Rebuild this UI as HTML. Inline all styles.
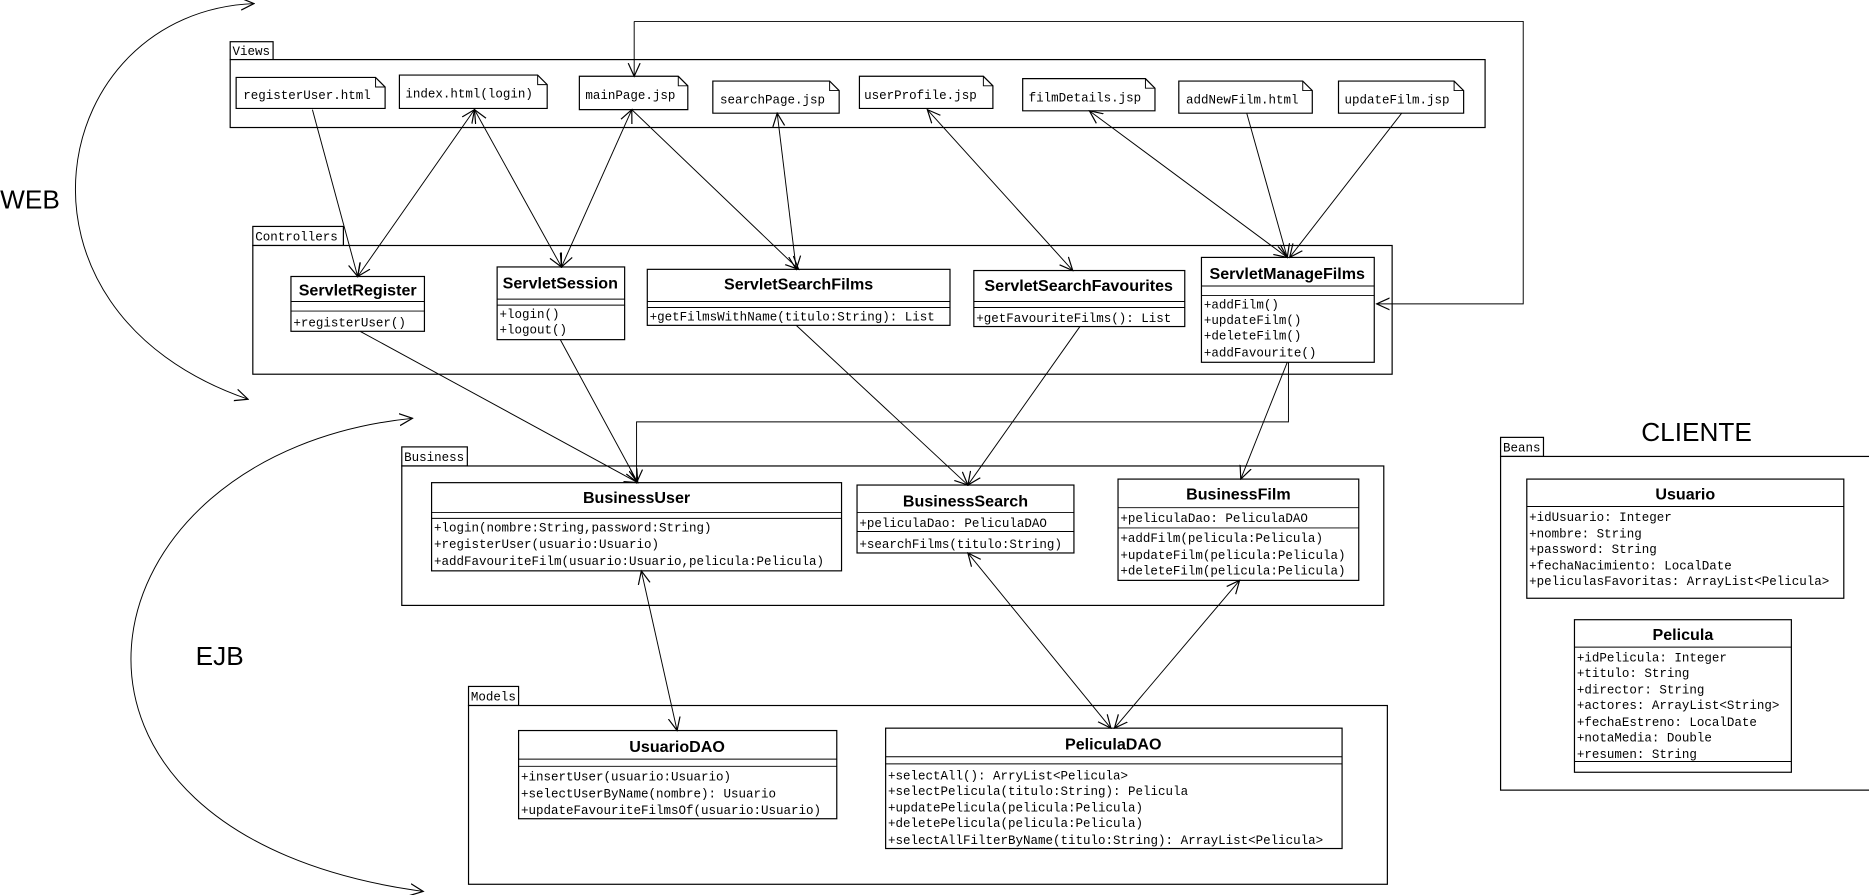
<!DOCTYPE html>
<html><head><meta charset="utf-8"><style>
html,body{margin:0;padding:0;background:#fff;}
svg{display:block;}
.m{font-family:"Liberation Mono",monospace;font-size:10.5px;fill:#000;}
.t{font-family:"Liberation Sans",sans-serif;font-weight:bold;font-size:13.5px;fill:#000;text-anchor:middle;}
.b{fill:#fff;stroke:#000;stroke-width:1;}
.l{fill:none;stroke:#000;stroke-width:0.8;}
</style></head><body>
<svg width="1869" height="895" viewBox="0 0 1568 751" xmlns="http://www.w3.org/2000/svg">
<defs>
<marker id="a" viewBox="0 0 12 12" refX="11" refY="6" markerWidth="12" markerHeight="12" markerUnits="userSpaceOnUse" orient="auto-start-reverse">
<path d="M0,1 L11,6 L0,11" fill="none" stroke="#000" stroke-width="1"/>
</marker>
</defs>

<text x="0" y="175" font-family="Liberation Sans,sans-serif" font-size="22">WEB</text>
<path class="l" d="M213,3 C40,10 -10,260 208,335" marker-end="url(#a)" marker-start="url(#a)"/>
<text x="164" y="558" font-family="Liberation Sans,sans-serif" font-size="22">EJB</text>
<path class="l" d="M346,351 C60,380 0,700 355,748" marker-end="url(#a)" marker-start="url(#a)"/>
<text x="1377" y="370" font-family="Liberation Sans,sans-serif" font-size="22">CLIENTE</text>

<rect class="b" x="193" y="35" width="36" height="15"/>
<text class="m" x="195" y="46">Views</text>
<rect class="b" x="193" y="50" width="1053" height="57"/>
<g>
<path class="b" d="M198,65 H315 L323,73 V91 H198 Z"/><path class="l" d="M315,65 V73 H323"/>
<text class="m" x="204" y="83">registerUser.html</text>
<path class="b" d="M335,63 H451 L459,71 V91 H335 Z"/><path class="l" d="M451,63 V71 H459"/>
<text class="m" x="340" y="82">index.html(login)</text>
<path class="b" d="M486,64 H569 L577,72 V92 H486 Z"/><path class="l" d="M569,64 V72 H577"/>
<text class="m" x="491" y="83">mainPage.jsp</text>
<path class="b" d="M598,68 H696 L704,76 V95 H598 Z"/><path class="l" d="M696,68 V76 H704"/>
<text class="m" x="604" y="87">searchPage.jsp</text>
<path class="b" d="M721,64 H825 L833,72 V91 H721 Z"/><path class="l" d="M825,64 V72 H833"/>
<text class="m" x="725" y="83">userProfile.jsp</text>
<path class="b" d="M858,66 H961 L969,74 V93 H858 Z"/><path class="l" d="M961,66 V74 H969"/>
<text class="m" x="863" y="85">filmDetails.jsp</text>
<path class="b" d="M989,68 H1093 L1101,76 V95 H989 Z"/><path class="l" d="M1093,68 V76 H1101"/>
<text class="m" x="995" y="87">addNewFilm.html</text>
<path class="b" d="M1123,68 H1220 L1228,76 V95 H1123 Z"/><path class="l" d="M1220,68 V76 H1228"/>
<text class="m" x="1128" y="87">updateFilm.jsp</text>
</g>

<rect class="b" x="212" y="190" width="76" height="16"/>
<text class="m" x="214" y="202">Controllers</text>
<rect class="b" x="212" y="206" width="956" height="108"/>

<rect class="b" x="244" y="232" width="112" height="46"/>
<line class="l" x1="244" y1="253" x2="356" y2="253"/><line class="l" x1="244" y1="261" x2="356" y2="261"/>
<text class="t" x="300" y="248">ServletRegister</text>
<text class="m" x="246" y="274">+registerUser()</text>

<rect class="b" x="417" y="224" width="107" height="61"/>
<line class="l" x1="417" y1="251" x2="524" y2="251"/><line class="l" x1="417" y1="256" x2="524" y2="256"/>
<text class="t" x="470" y="242">ServletSession</text>
<text class="m" x="419" y="267">+login()</text>
<text class="m" x="419" y="280">+logout()</text>

<rect class="b" x="543" y="226" width="254" height="47"/>
<line class="l" x1="543" y1="253" x2="797" y2="253"/><line class="l" x1="543" y1="258" x2="797" y2="258"/>
<text class="t" x="670" y="243">ServletSearchFilms</text>
<text class="m" x="545" y="269">+getFilmsWithName(titulo:String): List</text>

<rect class="b" x="817" y="227" width="177" height="47"/>
<line class="l" x1="817" y1="253" x2="994" y2="253"/><line class="l" x1="817" y1="258" x2="994" y2="258"/>
<text class="t" x="905" y="244">ServletSearchFavourites</text>
<text class="m" x="819" y="270">+getFavouriteFilms(): List</text>

<rect class="b" x="1008" y="216" width="145" height="88"/>
<line class="l" x1="1008" y1="240" x2="1153" y2="240"/><line class="l" x1="1008" y1="248" x2="1153" y2="248"/>
<text class="t" x="1080" y="234">ServletManageFilms</text>
<text class="m" x="1010" y="259">+addFilm()</text>
<text class="m" x="1010" y="272">+updateFilm()</text>
<text class="m" x="1010" y="285">+deleteFilm()</text>
<text class="m" x="1010" y="299">+addFavourite()</text>

<rect class="b" x="337" y="375" width="55" height="16"/>
<text class="m" x="339" y="387">Business</text>
<rect class="b" x="337" y="391" width="824" height="117"/>

<rect class="b" x="362" y="405" width="344" height="74"/>
<line class="l" x1="362" y1="430" x2="706" y2="430"/><line class="l" x1="362" y1="435" x2="706" y2="435"/>
<text class="t" x="534" y="422">BusinessUser</text>
<text class="m" x="364" y="446">+login(nombre:String,password:String)</text>
<text class="m" x="364" y="460">+registerUser(usuario:Usuario)</text>
<text class="m" x="364" y="474">+addFavouriteFilm(usuario:Usuario,pelicula:Pelicula)</text>

<rect class="b" x="719" y="407" width="182" height="57"/>
<line class="l" x1="719" y1="430" x2="901" y2="430"/><line class="l" x1="719" y1="446" x2="901" y2="446"/>
<text class="t" x="810" y="425">BusinessSearch</text>
<text class="m" x="721" y="442">+peliculaDao: PeliculaDAO</text>
<text class="m" x="721" y="460">+searchFilms(titulo:String)</text>

<rect class="b" x="938" y="402" width="202" height="85"/>
<line class="l" x1="938" y1="426" x2="1140" y2="426"/><line class="l" x1="938" y1="443" x2="1140" y2="443"/>
<text class="t" x="1039" y="419">BusinessFilm</text>
<text class="m" x="940" y="438">+peliculaDao: PeliculaDAO</text>
<text class="m" x="940" y="455">+addFilm(pelicula:Pelicula)</text>
<text class="m" x="940" y="469">+updateFilm(pelicula:Pelicula)</text>
<text class="m" x="940" y="482">+deleteFilm(pelicula:Pelicula)</text>

<rect class="b" x="393" y="576" width="42" height="16"/>
<text class="m" x="395" y="588">Models</text>
<rect class="b" x="393" y="592" width="771" height="150"/>

<rect class="b" x="435" y="613" width="267" height="74"/>
<line class="l" x1="435" y1="637" x2="702" y2="637"/><line class="l" x1="435" y1="643" x2="702" y2="643"/>
<text class="t" x="568" y="631">UsuarioDAO</text>
<text class="m" x="437" y="655">+insertUser(usuario:Usuario)</text>
<text class="m" x="437" y="669">+selectUserByName(nombre): Usuario</text>
<text class="m" x="437" y="683">+updateFavouriteFilmsOf(usuario:Usuario)</text>

<rect class="b" x="743" y="611" width="383" height="101"/>
<line class="l" x1="743" y1="635" x2="1126" y2="635"/><line class="l" x1="743" y1="641" x2="1126" y2="641"/>
<text class="t" x="934" y="629">PeliculaDAO</text>
<text class="m" x="745" y="654">+selectAll(): ArryList&lt;Pelicula&gt;</text>
<text class="m" x="745" y="667">+selectPelicula(titulo:String): Pelicula</text>
<text class="m" x="745" y="681">+updatePelicula(pelicula:Pelicula)</text>
<text class="m" x="745" y="694">+deletePelicula(pelicula:Pelicula)</text>
<text class="m" x="745" y="708">+selectAllFilterByName(titulo:String): ArrayList&lt;Pelicula&gt;</text>

<rect class="b" x="1259" y="367" width="36" height="16"/>
<text class="m" x="1261" y="379">Beans</text>
<rect class="b" x="1259" y="383" width="312" height="280"/>

<rect class="b" x="1281" y="402" width="266" height="100"/>
<line class="l" x1="1281" y1="425" x2="1547" y2="425"/>
<text class="t" x="1414" y="419">Usuario</text>
<text class="m" x="1283" y="437">+idUsuario: Integer</text>
<text class="m" x="1283" y="451">+nombre: String</text>
<text class="m" x="1283" y="464">+password: String</text>
<text class="m" x="1283" y="478">+fechaNacimiento: LocalDate</text>
<text class="m" x="1283" y="491">+peliculasFavoritas: ArrayList&lt;Pelicula&gt;</text>

<rect class="b" x="1321" y="520" width="182" height="128"/>
<line class="l" x1="1321" y1="543" x2="1503" y2="543"/><line class="l" x1="1321" y1="639" x2="1503" y2="639"/>
<text class="t" x="1412" y="537">Pelicula</text>
<text class="m" x="1323" y="555">+idPelicula: Integer</text>
<text class="m" x="1323" y="568">+titulo: String</text>
<text class="m" x="1323" y="582">+director: String</text>
<text class="m" x="1323" y="595">+actores: ArrayList&lt;String&gt;</text>
<text class="m" x="1323" y="609">+fechaEstreno: LocalDate</text>
<text class="m" x="1323" y="622">+notaMedia: Double</text>
<text class="m" x="1323" y="636">+resumen: String</text>

<g class="l">
<path class="l" d="M532,18 V64" marker-end="url(#a)"/>
<path class="l" d="M532,18 H1278 V255 H1155" marker-end="url(#a)"/>
<line class="l" x1="262" y1="92" x2="300" y2="232" marker-end="url(#a)"/>
<line class="l" x1="300" y1="232" x2="398" y2="92" marker-end="url(#a)" marker-start="url(#a)"/>
<line class="l" x1="398" y1="92" x2="471" y2="224" marker-end="url(#a)" marker-start="url(#a)"/>
<line class="l" x1="471" y1="224" x2="530" y2="92" marker-end="url(#a)" marker-start="url(#a)"/>
<line class="l" x1="530" y1="92" x2="670" y2="226" marker-end="url(#a)"/>
<line class="l" x1="652" y1="95" x2="668" y2="226" marker-end="url(#a)" marker-start="url(#a)"/>
<line class="l" x1="778" y1="92" x2="900" y2="227" marker-end="url(#a)" marker-start="url(#a)"/>
<line class="l" x1="914" y1="93" x2="1080" y2="216" marker-end="url(#a)" marker-start="url(#a)"/>
<line class="l" x1="1046" y1="95" x2="1080" y2="216" marker-end="url(#a)"/>
<line class="l" x1="1176" y1="95" x2="1082" y2="216" marker-end="url(#a)"/>
<line class="l" x1="302" y1="278" x2="535" y2="405" marker-end="url(#a)"/>
<line class="l" x1="470" y1="285" x2="535" y2="405" marker-end="url(#a)"/>
<line class="l" x1="668" y1="273" x2="812" y2="407" marker-end="url(#a)"/>
<line class="l" x1="906" y1="274" x2="812" y2="407" marker-end="url(#a)"/>
<path class="l" d="M1081,304 V354 H534 V405" marker-end="url(#a)"/>
<line class="l" x1="1080" y1="304" x2="1041" y2="402" marker-end="url(#a)"/>
<line class="l" x1="538" y1="479" x2="568" y2="613" marker-end="url(#a)" marker-start="url(#a)"/>
<line class="l" x1="812" y1="464" x2="932" y2="611" marker-end="url(#a)" marker-start="url(#a)"/>
<line class="l" x1="1040" y1="487" x2="935" y2="611" marker-end="url(#a)" marker-start="url(#a)"/>
</g>
</svg>
</body></html>
